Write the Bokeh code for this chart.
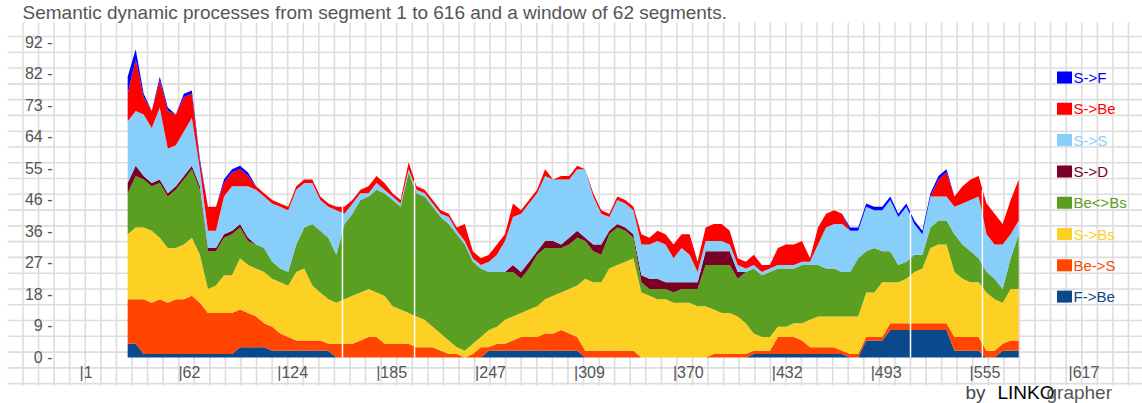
import numpy as np
from bokeh.plotting import figure
from bokeh.models import ColumnDataSource, Range1d, LinearAxis, FixedTicker, CustomJSTickFormatter
from bokeh.core.properties import value
from bokeh.embed import file_html
from bokeh.resources import INLINE

# ---------------- data ----------------
title_text = "Semantic dynamic processes from segment 1 to 616 and a window of 62 segments."

segments = list(range(31, 587, 5))  # window centres (112 samples)

F_Be = [4, 4, 1, 1, 1, 1, 1, 1, 1, 1,
        1, 1, 1, 1, 3, 3, 3, 3, 2, 2,
        2, 2, 2, 2, 2, 2, 0, 0, 0, 0,
        0, 0, 0, 0, 0, 0, 0, 0, 0, 0,
        0, 0, 0, 0, 0, 2, 2, 2, 2, 2,
        2, 2, 2, 2, 2, 2, 2, 0, 0, 0,
        0, 0, 0, 0, 0, 0, 0, 0, 0, 0,
        0, 0, 0, 0, 0, 0, 0, 0, 1, 1,
        1, 1, 1, 1, 1, 1, 1, 1, 1, 1,
        0, 0, 5, 5, 5, 8, 8, 8, 8, 8,
        8, 8, 8, 2, 2, 2, 2, 0, 0, 2,
        2, 2]
Be_S = [13, 13, 16, 15, 16, 15, 16, 16, 17, 15,
        12, 12, 12, 12, 11, 10, 9, 7, 7, 5,
        4, 3, 3, 3, 3, 2, 4, 4, 4, 5,
        6, 6, 4, 4, 4, 4, 3, 3, 3, 2,
        1, 1, 0, 1, 3, 1, 2, 2, 3, 4,
        4, 4, 5, 5, 6, 5, 4, 2, 2, 2,
        2, 2, 2, 2, 0, 0, 0, 0, 0, 0,
        0, 0, 0, 1, 1, 1, 1, 1, 1, 1,
        1, 5, 5, 5, 4, 2, 2, 2, 2, 1,
        1, 1, 1, 1, 1, 2, 2, 2, 2, 2,
        2, 2, 2, 4, 4, 4, 4, 2, 2, 2,
        3, 3]
S_Bs = [19, 21, 21, 21, 18, 16, 15, 16, 17, 14,
        7, 8, 11, 11, 15, 14, 14, 15, 14, 15,
        15, 20, 21, 16, 14, 13, 12, 13, 14, 14,
        14, 13, 14, 11, 10, 9, 9, 8, 6, 5,
        4, 2, 2, 3, 3, 5, 5, 7, 7, 7,
        8, 9, 10, 11, 11, 13, 15, 21, 20, 20,
        24, 25, 26, 27, 19, 18, 17, 17, 16, 16,
        16, 15, 15, 13, 12, 12, 11, 9, 5, 4,
        4, 3, 3, 4, 5, 8, 9, 9, 9, 10,
        11, 11, 13, 13, 16, 12, 12, 13, 15, 16,
        22, 23, 23, 19, 17, 16, 16, 17, 15, 12,
        15, 15]
Be_Bs = [12, 15, 14, 13, 16, 15, 17, 19, 20, 19,
         11, 10, 11, 12, 9, 7, 7, 7, 5, 4,
         4, 8, 12, 18, 18, 18, 14, 22, 24, 27,
         27, 30, 30, 31, 30, 41, 36, 36, 35, 34,
         34, 33, 31, 24, 20, 17, 16, 14, 13, 10,
         12, 15, 15, 14, 13, 13, 14, 11, 9, 8,
         10, 11, 9, 6, 3, 2, 3, 3, 3, 4,
         4, 5, 12, 13, 14, 14, 11, 15, 19, 18,
         19, 17, 17, 16, 17, 16, 15, 14, 14, 13,
         13, 17, 12, 13, 9, 9, 5, 5, 5, 4,
         6, 7, 7, 11, 10, 9, 7, 6, 6, 4,
         9, 16]
S_D = [3, 3, 1, 1, 1, 1, 1, 1, 1, 1,
       1, 1, 1, 1, 1, 1, 0, 0, 0, 0,
       0, 0, 0, 0, 0, 0, 0, 0, 0, 0,
       0, 0, 0, 0, 0, 0, 0, 0, 0, 0,
       0, 0, 0, 0, 0, 0, 0, 0, 2, 2,
       2, 1, 2, 2, 1, 2, 2, 1, 2, 3,
       1, 1, 1, 1, 2, 3, 3, 2, 3, 2,
       2, 2, 4, 4, 4, 4, 2, 0, 0, 0,
       0, 0, 0, 0, 0, 0, 0, 0, 0, 0,
       0, 0, 0, 0, 0, 0, 0, 0, 0, 0,
       0, 0, 0, 0, 0, 0, 0, 0, 0, 0,
       0, 0]
S_S = [18, 16, 18, 16, 21, 13, 12, 13, 14, 5,
       5, 5, 11, 13, 11, 15, 16, 15, 17, 18,
       18, 16, 13, 12, 9, 9, 13, 3, 3, 2,
       1, 2, 1, 1, 1, 1, 1, 1, 1, 1,
       2, 1, 1, 1, 1, 3, 5, 9, 14, 17,
       17, 17, 19, 18, 19, 17, 18, 20, 14, 9,
       4, 7, 7, 7, 9, 10, 11, 11, 7, 10,
       8, 3, 3, 3, 3, 2, 2, 1, 1, 1,
       1, 1, 1, 1, 1, 1, 6, 12, 13, 14,
       12, 8, 13, 11, 12, 15, 14, 16, 9, 6,
       9, 7, 7, 8, 12, 15, 18, 11, 10, 13,
       7, 4]
S_Be = [8, 15, 5, 5, 8, 11, 9, 10, 7, 2,
        7, 7, 4, 4, 5, 3, 1, 1, 1, 1,
        1, 1, 1, 1, 1, 1, 1, 2, 1, 1,
        2, 2, 2, 1, 1, 2, 1, 1, 1, 1,
        1, 1, 5, 2, 2, 2, 3, 2, 4, 1,
        1, 1, 2, 0, 1, 1, 1, 0, 1, 1,
        1, 1, 1, 1, 3, 2, 3, 3, 4, 4,
        6, 3, 4, 5, 5, 4, 2, 2, 3, 2,
        1, 5, 6, 6, 6, 1, 5, 4, 4, 3,
        0, 0, 0, 0, 0, 0, 0, 0, 0, 0,
        0, 5, 7, 3, 5, 6, 6, 9, 9, 6,
        10, 12]
S_F = [5, 3, 1, 0, 1, 1, 0, 1, 1, 1,
       0, 0, 1, 1, 1, 1, 0, 0, 0, 0,
       0, 0, 0, 0, 0, 0, 0, 0, 0, 0,
       0, 0, 0, 0, 0, 0, 0, 0, 0, 0,
       0, 0, 0, 0, 0, 0, 0, 0, 0, 0,
       0, 0, 0, 0, 0, 0, 0, 0, 0, 0,
       0, 0, 0, 0, 0, 0, 0, 0, 0, 0,
       0, 0, 0, 0, 0, 0, 0, 0, 0, 0,
       0, 0, 0, 0, 0, 0, 0, 0, 0, 0,
       1, 1, 1, 1, 1, 1, 1, 1, 1, 1,
       1, 1, 1, 0, 0, 0, 0, 0, 0, 0,
       0, 0]

# bottom -> top
stack_keys = ["F_Be", "Be_S", "S_Bs", "Be_Bs", "S_D", "S_S", "S_Be", "S_F"]
series_labels = ["F->Be", "Be->S", "S->Bs", "Be<>Bs", "S->D", "S->S", "S->Be", "S->F"]
series_colors = ["#0a4a8c", "#ff4500", "#fdd124", "#5a9e22", "#7a0025", "#87cefa", "#ff0000", "#0000ff"]

y_ticks = [0, 9.2, 18.4, 27.6, 36.8, 46, 55.2, 64.4, 73.6, 82.8, 92]
y_tick_labels = ["0 -", "9 -", "18 -", "27 -", "36 -", "46 -", "55 -", "64 -", "73 -", "82 -", "92 -"]
x_ticks = [1, 62.6, 124.2, 185.8, 247.4, 309, 370.6, 432.2, 493.8, 555.4, 617]
x_tick_labels = ["|1", "|62", "|124", "|185", "|247", "|309", "|370", "|432", "|493", "|555", "|617"]
gap_segments = [164.8, 209.7, 518.6, 563.4]

# ---------------- layout helpers (page pixels -> data) ----------------
W, H = 1142, 403
PAGE = 0
PX_SEG1, PX_PER_SEG = 79.0, 1.6055
PY_ZERO, PY_PER_UNIT = 357.0, 3.424


def sx(px):
    return 1 + (px - PX_SEG1) / PX_PER_SEG


def sy(py):
    return (PY_ZERO - py) / PY_PER_UNIT


FONT = value("Liberation Sans")

p = figure(width=W, height=H, output_backend="svg", toolbar_location=None, title=None,
           x_range=Range1d(sx(PAGE), sx(PAGE + W)), y_range=Range1d(sy(PAGE + H), sy(PAGE)),
           x_axis_location=None, y_axis_location=None, min_border=0)
p.outline_line_color = None
p.background_fill_color = "white"
p.border_fill_color = "white"
p.grid.visible = False

# graph-paper background
gx = [22.5 + 15.57 * k for k in range(72)]
gy = [36.0 + 15.78 * k for k in range(23)]
p.segment(x0=[sx(v) for v in gx], y0=sy(22), x1=[sx(v) for v in gx], y1=sy(385),
          line_color="#dddddd", line_width=1.6)
p.segment(x0=sx(7), y0=[sy(v) for v in gy], x1=sx(1142), y1=[sy(v) for v in gy],
          line_color="#dddddd", line_width=1.6)

# stacked areas
src = ColumnDataSource(dict(seg=segments, F_Be=F_Be, Be_S=Be_S, S_Bs=S_Bs, Be_Bs=Be_Bs,
                            S_D=S_D, S_S=S_S, S_Be=S_Be, S_F=S_F))
p.varea_stack(stackers=stack_keys, x="seg", color=series_colors, source=src)

# white gap lines
totals = np.sum([F_Be, Be_S, S_Bs, Be_Bs, S_D, S_S, S_Be, S_F], axis=0)
gap_tops = np.interp(gap_segments, segments, totals)
p.segment(x0=gap_segments, y0=0, x1=gap_segments, y1=list(gap_tops),
          line_color="white", line_width=1.5)

# y axis (labels carry their own " -" tick mark)
yaxis = LinearAxis(fixed_location=sx(52), ticker=FixedTicker(ticks=y_ticks),
                   formatter=CustomJSTickFormatter(
                       args=dict(yvals=y_ticks, ylabs=y_tick_labels),
                       code="const i = yvals.findIndex(t => Math.abs(t - tick) < 1e-6); return i >= 0 ? ylabs[i] : '';"))
yaxis.axis_line_color = None
yaxis.major_tick_line_color = None
yaxis.minor_tick_line_color = None
yaxis.major_tick_out = 0
yaxis.major_tick_in = 0
yaxis.major_label_standoff = 0
yaxis.major_label_text_font = "Liberation Sans"
yaxis.major_label_text_font_size = "16px"
yaxis.major_label_text_color = "#555555"
p.add_layout(yaxis, "left")

# x tick labels ("|" is the tick mark, left aligned on the tick)
p.text(x=x_ticks, y=sy(372), text=x_tick_labels, text_align="left", text_baseline="middle",
       text_font=FONT, text_font_size="16px", text_color="#555555")

# title
p.text(x=[sx(22)], y=[sy(12)], text=[title_text], text_baseline="middle",
       text_font=FONT, text_font_size="19px", text_color="#555555")

# legend (top -> bottom)
leg_labels = series_labels[::-1]
leg_colors = series_colors[::-1]
leg_y = [sy(77 + 31.3 * i) for i in range(len(leg_labels))]
p.rect(x=sx(1064), y=leg_y, width=15, height=12, width_units="screen", height_units="screen",
       fill_color=leg_colors, line_color=None)
p.text(x=sx(1073), y=leg_y, text=leg_labels, text_color=leg_colors, text_baseline="middle",
       text_font=FONT, text_font_size="15px")

# footer
p.text(x=[sx(965)], y=[sy(392)], text=["by"], text_baseline="middle",
       text_font=FONT, text_font_size="19px", text_color="#444444")
p.text(x=[sx(997)], y=[sy(392)], text=["LINKO"], text_baseline="middle",
       text_font=FONT, text_font_size="19px", text_color="#000000")
p.text(x=[sx(1046)], y=[sy(392)], text=["grapher"], text_baseline="middle",
       text_font=FONT, text_font_size="19px", text_color="#555555")

open("out.html", "w").write(file_html(p, INLINE))
